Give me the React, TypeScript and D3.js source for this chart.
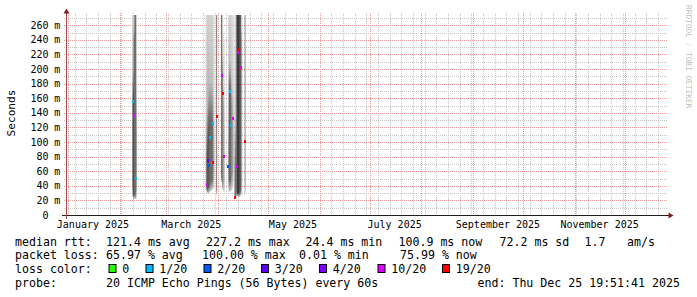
import React from 'react';
import * as d3 from 'd3';

const WIDTH = 697;
const HEIGHT = 297;
const START = new Date(2024, 11, 30, 19, 51, 41);
const END = new Date(2025, 11, 25, 19, 51, 41);
const Y_MAX = 274; // ms at top of plot

// y grid / tick values (ms)
const yMajor = d3.range(0, 261, 20);
const yMinor = d3.range(10, 271, 20);

// x labels: every second month
const labelMonths = [0, 2, 4, 6, 8, 10];
const labelTexts = ['January 2025', 'March 2025', 'May 2025', 'July 2025', 'September 2025', 'November 2025'];

// smoke columns (12h rows): time, lowest ping, lower dense, upper dense, highest ping (ms), density
const smoke: [string, number, number, number, number, number][] = [
  ['2025-02-08 12:00', 25, 40, 150, 300, 0.45],
  ['2025-02-09 00:00', 22, 28, 160, 300, 0.8],
  ['2025-02-09 12:00', 22, 28, 240, 300, 0.7],
  ['2025-02-10 00:00', 22, 28, 300, 300, 0.68],
  ['2025-02-10 12:00', 22, 30, 300, 300, 0.75],
  ['2025-02-11 00:00', 26, 40, 120, 300, 0.35],
  ['2025-03-24 12:00', 35, 45, 70, 300, 0.2],
  ['2025-03-25 00:00', 32, 38, 75, 300, 0.6],
  ['2025-03-25 12:00', 30, 36, 85, 300, 0.75],
  ['2025-03-26 00:00', 30, 38, 110, 300, 0.75],
  ['2025-03-26 12:00', 31, 40, 130, 300, 0.75],
  ['2025-03-27 00:00', 32, 42, 130, 300, 0.75],
  ['2025-03-27 12:00', 33, 45, 135, 300, 0.72],
  ['2025-03-28 00:00', 34, 48, 130, 300, 0.68],
  ['2025-03-28 12:00', 35, 50, 128, 300, 0.6],
  ['2025-03-29 00:00', 36, 55, 110, 300, 0.42],
  ['2025-03-29 12:00', 40, 60, 90, 280, 0.2],
  ['2025-03-31 00:00', 28, 35, 300, 300, 0.6],
  ['2025-04-03 00:00', 45, 52, 300, 300, 0.75],
  ['2025-04-03 12:00', 35, 45, 190, 300, 0.5],
  ['2025-04-04 00:00', 32, 45, 150, 250, 0.4],
  ['2025-04-04 12:00', 32, 50, 110, 240, 0.25],
  ['2025-04-07 00:00', 35, 50, 90, 300, 0.25],
  ['2025-04-07 12:00', 32, 48, 170, 300, 0.75],
  ['2025-04-08 00:00', 32, 48, 175, 300, 0.8],
  ['2025-04-08 12:00', 33, 50, 165, 300, 0.7],
  ['2025-04-09 00:00', 34, 55, 140, 300, 0.5],
  ['2025-04-09 12:00', 36, 60, 125, 300, 0.38],
  ['2025-04-10 00:00', 40, 70, 110, 300, 0.2],
  ['2025-04-11 00:00', 22, 24, 65, 300, 0.75],
  ['2025-04-11 12:00', 22, 26, 70, 300, 0.7],
  ['2025-04-12 00:00', 26, 32, 300, 300, 0.65],
  ['2025-04-12 12:00', 26, 30, 300, 300, 0.88],
  ['2025-04-13 00:00', 25, 30, 300, 300, 0.9],
  ['2025-04-13 12:00', 25, 30, 300, 300, 0.88],
  ['2025-04-14 00:00', 26, 32, 300, 300, 0.85],
  ['2025-04-14 12:00', 27, 34, 300, 300, 0.75],
  ['2025-04-15 00:00', 30, 40, 240, 300, 0.4],
  ['2025-04-17 00:00', 30, 40, 300, 300, 0.5],
];

// median rtt per row (ms) and loss level
const medianTimes = [
  '2025-02-08 12:00', '2025-02-09 12:00', '2025-02-10 12:00',
  '2025-03-25 00:00', '2025-03-26 00:00', '2025-03-26 12:00', '2025-03-27 00:00', '2025-03-28 00:00',
  '2025-03-28 12:00', '2025-03-29 00:00', '2025-03-31 00:00', '2025-04-03 00:00', '2025-04-04 00:00',
  '2025-04-04 12:00', '2025-04-08 00:00', '2025-04-09 12:00', '2025-04-08 12:00', '2025-04-07 00:00',
  '2025-04-12 00:00', '2025-04-11 00:00', '2025-04-12 12:00', '2025-04-13 12:00', '2025-04-14 00:00',
  '2025-04-14 12:00', '2025-04-17 00:00',
];
const medianValues = [
  156.6, 137, 50.3,
  42, 75.3, 68, 107.3, 73,
  126.7, 73, 135, 191.7, 167.5,
  81.2, 169.9, 132.5, 123.7, 67,
  67.5, 24.4, 222.9, 227.2, 201,
  203, 100.9,
];
const medianLoss = [
  1, 10, 1,
  10, 3, 2, 1, 1,
  1, 19, 19, 10, 19,
  10, 1, 10, 1, 2,
  10, 19, 10, 19, 19,
  10, 19,
];

const lossThresholds = [0, 1, 2, 3, 4, 10, 19];
const lossLabels = ['0', '1/20', '2/20', '3/20', '4/20', '10/20', '19/20'];
const lossColors = ['#26ff00', '#00b8ff', '#0059ff', '#5e00ff', '#7e00ff', '#dd00ff', '#ff0000'];

// legend text
const legendLine1: [string, number][] = [
  ['median rtt:', 15], ['121.4 ms avg', 106], ['227.2 ms max', 206], ['24.4 ms min', 305.5],
  ['100.9 ms now', 398.5], ['72.2 ms sd', 499.5], ['1.7', 584.5], ['am/s', 627],
];
const legendLine2: [string, number][] = [
  ['packet loss:', 15], ['65.97 % avg', 106], ['100.00 % max', 202], ['0.01 % min', 299], ['75.99 % now', 400],
];
const legendLine4: [string, number][] = [
  ['probe:', 15], ['20 ICMP Echo Pings (56 Bytes) every 60s', 106], ['end: Thu Dec 25 19:51:41 2025', 477.5],
];
const legendBoxX = [108.5, 145.5, 203.5, 261, 319, 377.5, 442];

const MONO = "'DejaVu Sans Mono', monospace";

export default function App() {
  const parse = d3.timeParse('%Y-%m-%d %H:%M');
  const x = d3.scaleTime().domain([START, END]).range([66, 666]);
  const y = d3.scaleLinear().domain([0, Y_MAX]).range([215, 15]);
  const px = (v: number) => Math.round(v) + 0.5;
  const X0 = 66, X1 = 666, Y0 = 215, Y1 = 15;

  const weeks = d3.timeSunday.range(START, END);
  const months = d3.timeMonth.range(START, END);
  const edge = '#e4e4e4';
  const lossColor = (l: number) => {
    let idx = 0;
    lossThresholds.forEach((t, i) => { if (l >= t) idx = i; });
    return lossColors[idx];
  };

  const minorGrid = '#c6c6c6';
  const majorGrid = '#eb9b9b';

  return (
    <svg width={WIDTH} height={HEIGHT} style={{ position: 'absolute', left: 0, top: 0, background: '#fff' }}>
      <defs>
        <clipPath id="plot"><rect x={X0} y={Y1} width={X1 - X0} height={Y0 - Y1} /></clipPath>
        {smoke.map((s, i) => {
          const [, lo, q1, q3, hi, dark] = s;
          const mix = d3.interpolateRgb(edge, '#000');
          const core = mix(dark);
          const span = hi - lo;
          const o1 = (q1 - lo) / span;
          const o3 = Math.min(1, (q3 - lo) / span);
          const oFade = o3 + (1 - o3) * 0.3;
          return (
            <linearGradient key={i} id={`sg${i}`} gradientUnits="userSpaceOnUse" x1={0} x2={0} y1={y(lo)} y2={y(hi)}>
              <stop offset={0} stopColor={mix(dark * 0.25)} />
              <stop offset={o1} stopColor={core} />
              <stop offset={o3} stopColor={core} />
              {o3 < 1 && <stop offset={oFade} stopColor={mix(dark * 0.35)} />}
              <stop offset={1} stopColor={o3 >= 1 ? core : mix(dark * 0.12)} />
            </linearGradient>
          );
        })}
      </defs>
      <rect x={0} y={0} width={WIDTH} height={HEIGHT} fill="#fff" />

      {/* minor grid */}
      <g stroke={minorGrid} strokeDasharray="1,1" shapeRendering="crispEdges">
        {yMinor.map((v) => (
          <line key={`hm${v}`} x1={X0 - 2} x2={X1 + 2} y1={px(y(v))} y2={px(y(v))} />
        ))}
        {weeks.map((w, i) => (
          <line key={`vm${i}`} x1={px(x(w))} x2={px(x(w))} y1={Y1 - 2} y2={Y0 + 2} />
        ))}
      </g>
      {/* major grid */}
      <g stroke={majorGrid} strokeDasharray="1,1" shapeRendering="crispEdges">
        {yMajor.filter((v) => v > 0).map((v) => (
          <line key={`hM${v}`} x1={X0 - 2} x2={X1 + 2} y1={px(y(v))} y2={px(y(v))} />
        ))}
        {months.map((m, i) => (
          <line key={`vM${i}`} x1={px(x(m))} x2={px(x(m))} y1={Y1 - 2} y2={Y0 + 2} />
        ))}
      </g>

      {/* smoke */}
      <g clipPath="url(#plot)">
        {smoke.map((s, i) => {
          const t = parse(s[0]) as Date;
          const t2 = d3.timeHour.offset(t, 12);
          const top = y(s[4]);
          const bot = y(s[1]);
          return (
            <rect key={i} x={x(t)} width={x(t2) - x(t)} y={top} height={bot - top} fill={`url(#sg${i})`} />
          );
        })}
        {medianTimes.map((ts, i) => {
          const t = parse(ts) as Date;
          const t2 = d3.timeHour.offset(t, 12);
          const cx = Math.round((x(t) + x(t2)) / 2);
          const cy = Math.round(y(medianValues[i]));
          return (
            <rect key={`m${i}`} x={cx - 1} width={2} y={cy - 1} height={3} fill={lossColor(medianLoss[i])} shapeRendering="crispEdges" />
          );
        })}
      </g>

      {/* axes */}
      <g shapeRendering="crispEdges">
        <line x1={X0 - 4} x2={X1 + 4} y1={Y0 + 0.5} y2={Y0 + 0.5} stroke="#1f1f1f" />
        <line x1={X0 + 0.5} x2={X0 + 0.5} y1={Y0 + 4} y2={Y1 - 4} stroke="#a04848" />
      </g>
      <polygon points={`${X1 + 2.5},${Y0 - 2.5} ${X1 + 2.5},${Y0 + 3.5} ${X1 + 7.5},${Y0 + 0.5}`} fill="#7f1f1f" />
      <polygon points={`${X0 - 2.5},${Y1 - 1.5} ${X0 + 3.5},${Y1 - 1.5} ${X0 + 0.5},${Y1 - 6.5}`} fill="#7f1f1f" />

      {/* y labels */}
      <g fontFamily={MONO} fontSize={10} fill="#000">
        {yMajor.map((v) => (
          <g key={`yl${v}`}>
            <text x={48.5} y={y(v) + 3.6} textAnchor="end">{v}</text>
            {v > 0 && <text x={54.3} y={y(v) + 3.6}>m</text>}
          </g>
        ))}
        {labelMonths.map((m, i) => (
          <text key={`xl${m}`} x={x(new Date(2025, m, 16))} y={228.3} textAnchor="middle">{labelTexts[i]}</text>
        ))}
      </g>

      {/* vertical label & watermark */}
      <text transform="translate(14.5,113) rotate(-90)" textAnchor="middle" fontFamily={MONO} fontSize={11.1} fill="#000">Seconds</text>
      <text transform="translate(685.5,5) rotate(90)" fontFamily={MONO} fontSize={7.8} fill="#000" fillOpacity={0.3}>RRDTOOL / TOBI OETIKER</text>

      {/* legend */}
      <g fontFamily={MONO} fontSize={11.6} fill="#000" style={{ whiteSpace: 'pre' }}>
        {legendLine1.map(([s, lx]) => <text key={`l1${s}`} x={lx} y={245.5}>{s}</text>)}
        {legendLine2.map(([s, lx]) => <text key={`l2${s}`} x={lx} y={259.3}>{s}</text>)}
        <text x={15} y={273}>loss color:</text>
        {lossLabels.map((lbl, i) => (
          <g key={`lc${i}`}>
            <rect x={legendBoxX[i] + 0.5} y={264.5} width={7} height={8} fill={lossColors[i]} stroke="#000" strokeWidth={1} />
            <text x={legendBoxX[i] + 13.8} y={273}>{lbl}</text>
          </g>
        ))}
        {legendLine4.map(([s, lx]) => <text key={`l4${s}`} x={lx} y={286.8}>{s}</text>)}
      </g>
    </svg>
  );
}
